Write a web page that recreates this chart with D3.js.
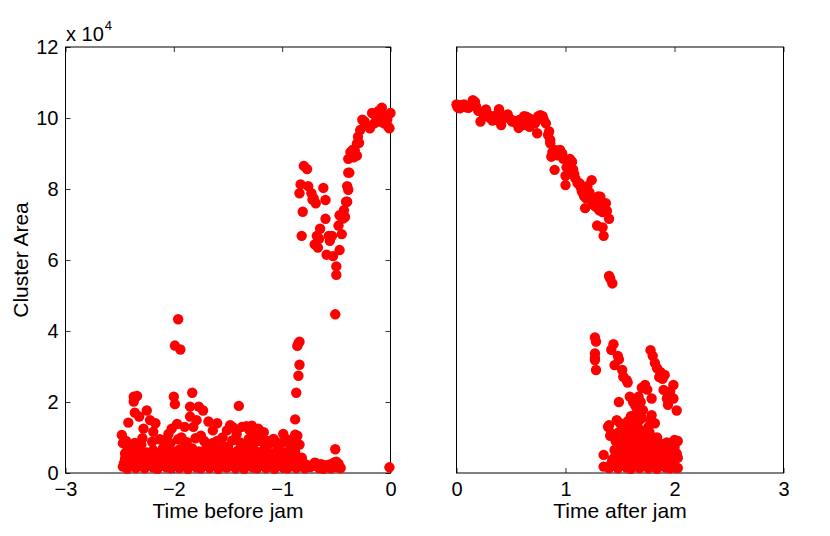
<!DOCTYPE html>
<html><head><meta charset="utf-8">
<script src="https://cdn.jsdelivr.net/npm/d3@7"></script>
<style>
body{margin:0;background:#fff}
text{font-family:"Liberation Sans",Arial,Helvetica,sans-serif;fill:#000}
</style>
</head><body><svg id="c" width="830" height="536"></svg>
<script>
// ---- data (time, cluster area in units of 10^4) ----
const yTicks = [0, 2, 4, 6, 8, 10, 12];
const xTicksBefore = [-3, -2, -1, 0];
const xTicksAfter = [0, 1, 2, 3];
const yMultiplier = "4";

const beforeHigh = [
[-0.01,0.16],[-0.08,10.29],[-0.17,10.14],[0.0,10.14],[-0.01,9.71],[-0.26,9.95],[-0.22,9.8],[-0.13,10.0],[-0.03,9.95],
[-0.19,9.71],[-0.1,9.9],[-0.05,10.05],[-0.15,9.85],[-0.28,9.66],[-0.3,9.47],[-0.31,9.28],[-0.33,9.09],[-0.37,9.04],
[-0.34,8.89],[-0.39,8.85],[-0.31,8.94],[-0.36,8.95],[-0.39,8.46],[-0.4,8.08],[-0.39,7.98],[-0.4,7.64],[-0.43,7.4],
[-0.42,7.21],[-0.47,7.26],[-0.48,6.97],[-0.45,6.73],[-0.47,6.28],[-0.53,6.11],[-0.5,5.82],[-0.5,5.58],[-0.51,4.47],
[-0.8,8.65],[-0.77,8.56],[-0.83,8.13],[-0.84,7.88],[-0.76,8.08],[-0.73,7.88],[-0.71,7.74],[-0.69,7.6],[-0.62,8.03],
[-0.6,7.69],[-0.81,7.36],[-0.82,6.68],[-0.65,6.88],[-0.68,6.68],[-0.7,6.44],[-0.67,6.35],[-0.6,7.16],[-0.57,6.68],
[-0.54,6.68],[-0.56,6.54],[-0.59,6.15],[-0.66,6.6],[-0.72,7.7],[-0.44,7.17],[-0.41,7.64],[-0.38,8.46],[-0.35,9.1],
[-0.29,9.3],[-0.24,9.9],[-0.11,10.2],[-0.06,9.85],[-0.02,9.75]
];
const beforeMid = [
[-0.85,3.65],[-0.86,3.58],[-0.84,3.7],[-0.84,3.05],[-0.85,2.74],[-0.87,2.26],[-0.88,1.51],
[-1.96,4.33],[-1.99,3.59],[-1.94,3.48],[-1.83,2.26],[-1.4,1.89],[-0.51,0.67],
[-2.37,2.15],[-2.34,2.17],[-2.37,2.01],[-2.0,2.15],[-1.99,1.94],[-2.36,1.7],[-2.25,1.76],[-2.32,1.59],[-2.22,1.49],
[-2.42,1.42],[-2.48,1.07],[-2.47,0.84],[-1.85,1.87],[-1.77,1.87],[-1.73,1.76],[-1.85,1.59],[-1.79,1.49],[-1.68,1.45],
[-1.97,1.38],[-2.05,1.1],[-2.19,1.16],[-2.28,1.25],[-2.13,0.95],[-2.02,1.25],[-1.93,1.0],[-1.82,1.3],[-1.75,1.05],
[-1.64,1.2],[-1.6,0.9],[-1.55,1.0],[-1.51,1.2],[-1.48,1.35],[-1.45,1.28],[-1.42,1.1],[-1.37,1.3],[-1.33,1.32],
[-1.3,1.2],[-1.28,1.33],[-1.25,1.1],[-1.22,1.25],[-1.19,1.0],[-1.17,1.15],[-1.13,0.9],[-1.08,0.96],[-1.04,0.8],
[-0.99,1.1],[-0.96,0.95],[-0.92,0.75],[-0.88,1.08],[-0.86,1.05],[-0.84,0.8],[-0.82,0.43],[-2.45,0.55],[-2.4,0.7],
[-2.3,0.8],[-2.1,0.7],[-1.9,0.75],[-1.7,0.7],[-1.5,0.75],[-1.35,0.8],[-1.6,1.4],[-2.17,1.4],[-1.9,1.3],[-1.55,0.6]
];
const beforeLow = [
[-2.47,0.18],[-2.43,0.12],[-2.39,0.22],[-2.35,0.14],[-2.31,0.2],[-2.27,0.13],[-2.23,0.24],[-2.19,0.15],[-2.15,0.12],
[-2.11,0.21],[-2.07,0.16],[-2.03,0.13],[-1.99,0.22],[-1.95,0.14],[-1.91,0.19],[-1.87,0.12],[-1.83,0.23],[-1.79,0.15],
[-1.75,0.13],[-1.71,0.2],[-1.67,0.14],[-1.63,0.24],[-1.59,0.12],[-1.55,0.18],[-1.51,0.15],[-1.47,0.22],[-1.43,0.13],
[-1.39,0.19],[-1.35,0.12],[-1.31,0.21],[-1.27,0.15],[-1.23,0.13],[-1.19,0.23],[-1.15,0.14],[-1.11,0.18],[-1.07,0.12],
[-1.03,0.2],[-0.99,0.15],[-0.95,0.13],[-0.91,0.22],[-0.87,0.14],[-0.83,0.19],[-0.79,0.13],[-0.74,0.17],[-0.69,0.28],
[-0.66,0.14],[-0.62,0.12],[-0.58,0.18],[-0.55,0.13],[-0.52,0.3],[-0.49,0.16],[-0.46,0.14],
[-2.45,0.4],[-2.4,0.33],[-2.35,0.45],[-2.3,0.36],[-2.25,0.42],[-2.2,0.34],[-2.15,0.44],[-2.1,0.37],[-2.05,0.41],
[-2.0,0.33],[-1.95,0.46],[-1.9,0.36],[-1.85,0.4],[-1.8,0.34],[-1.75,0.44],[-1.7,0.38],[-1.65,0.42],[-1.6,0.35],
[-1.55,0.45],[-1.5,0.37],[-1.45,0.41],[-1.4,0.34],[-1.35,0.43],[-1.3,0.36],[-1.25,0.4],[-1.2,0.35],[-1.15,0.44],
[-1.1,0.37],[-1.05,0.42],[-1.0,0.34],[-0.95,0.4],[-0.9,0.36],[-0.86,0.43],
[-2.43,0.62],[-2.37,0.55],[-2.31,0.68],[-2.25,0.58],[-2.19,0.64],[-2.13,0.56],[-2.07,0.7],[-2.01,0.6],[-1.95,0.66],
[-1.89,0.57],[-1.83,0.69],[-1.77,0.61],[-1.71,0.55],[-1.65,0.66],[-1.59,0.6],[-1.53,0.68],[-1.47,0.57],[-1.41,0.63],
[-1.35,0.58],[-1.29,0.7],[-1.23,0.59],[-1.17,0.65],[-1.11,0.56],[-1.05,0.62],[-0.99,0.58],[-0.93,0.66],[-0.88,0.6],
[-2.44,0.9],[-2.36,0.85],[-2.29,0.98],[-2.2,0.88],[-2.1,0.92],[-2.03,0.84],[-1.96,0.95],[-1.88,0.87],[-1.8,0.98],
[-1.72,0.9],[-1.64,0.85],[-1.57,0.8],[-1.46,0.92],[-1.39,0.86],[-1.31,0.95],[-1.26,0.83],[-1.2,0.9],[-1.12,0.82],
[-1.06,0.88],[-1.0,0.85],[-0.93,0.92],[-0.87,0.8],[-0.7,0.29],[-0.5,0.32],[-0.47,0.17],[-0.82,0.41],
[-2.46,0.28],[-2.41,0.5],[-2.37,0.3],[-2.33,0.52],[-2.29,0.27],[-2.24,0.49],[-2.21,0.29],[-2.17,0.53],[-2.13,0.26],
[-2.09,0.5],[-2.05,0.29],[-2.02,0.48],[-1.97,0.27],[-1.93,0.52],[-1.89,0.3],[-1.86,0.49],[-1.81,0.26],[-1.78,0.51],
[-1.73,0.29],[-1.69,0.5],[-1.66,0.27],[-1.62,0.53],[-1.57,0.3],[-1.53,0.49],[-1.49,0.26],[-1.45,0.52],[-1.41,0.28],
[-1.37,0.5],[-1.33,0.27],[-1.29,0.53],[-1.25,0.29],[-1.21,0.49],[-1.17,0.27],[-1.13,0.51],[-1.09,0.28],[-1.05,0.5],
[-1.01,0.26],[-0.97,0.52],[-0.93,0.29],[-0.89,0.49],[-0.85,0.27],[-0.78,0.24],[-0.72,0.2],[-0.64,0.25],[-0.6,0.22],
[-0.56,0.24],[-0.48,0.26]
];

const afterHigh = [
[0,10.38],[0.01,10.3],[0.03,10.27],[0.04,10.36],[0.07,10.38],[0.09,10.3],[0.11,10.29],[0.13,10.35],[0.15,10.5],
[0.17,10.45],[0.18,10.32],[0.2,10.2],[0.22,9.9],[0.24,10.14],[0.26,10.05],[0.27,10.24],[0.29,10.1],[0.31,10.0],
[0.33,9.93],[0.35,10.06],[0.37,9.95],[0.39,10.25],[0.4,10.12],[0.41,9.8],[0.43,10.0],[0.45,10.05],[0.47,10.1],
[0.49,9.98],[0.51,9.9],[0.53,9.92],[0.55,9.85],[0.57,9.72],[0.58,9.95],[0.6,9.9],[0.62,10.05],[0.63,9.8],[0.64,10.04],
[0.66,10.0],[0.67,9.75],[0.68,9.88],[0.7,9.95],[0.72,9.85],[0.74,9.57],[0.75,10.05],[0.77,10.08],[0.79,10.05],
[0.8,9.95],[0.82,9.85],[0.84,9.52],[0.85,9.62],[0.86,9.29],[0.86,9.38],[0.87,8.91],[0.88,9.04],[0.9,8.54],
[0.91,9.09],[0.93,8.95],[0.95,9.1],[0.97,9.0],[0.98,8.85],[1.0,8.11],[1.0,8.37],[1.01,8.61],[1.03,8.8],[1.04,8.85],
[1.06,8.77],[1.07,8.55],[1.08,8.42],[1.09,8.3],[1.11,8.17],[1.13,8.16],[1.14,8.05],[1.15,7.93],[1.17,7.8],[1.18,7.46],
[1.19,7.74],[1.2,8.08],[1.22,7.9],[1.23,7.72],[1.24,8.25],[1.25,7.6],[1.26,7.55],[1.28,7.5],[1.3,7.79],[1.31,7.4],
[1.32,7.78],[1.33,7.64],[1.34,7.35],[1.35,7.41],[1.37,7.6],[1.38,7.38],[1.4,7.16],[1.29,6.97],[1.34,6.92],[1.35,6.68],
[1.4,5.55],[1.41,5.48],[1.43,5.34]
];
const afterMid = [
[1.27,3.82],[1.28,3.7],[1.27,3.37],[1.27,3.25],[1.27,3.18],[1.28,2.9],
[1.44,3.63],[1.42,3.47],[1.48,3.3],[1.49,3.2],[1.45,3.04],[1.52,2.9],[1.53,2.71],[1.56,2.62],[1.57,2.55],
[1.78,3.46],[1.8,3.3],[1.82,3.1],[1.84,2.95],[1.87,2.85],[1.91,2.76],[1.89,2.65],[1.86,2.7],
[1.99,2.48],[1.96,2.3],[1.9,2.34],[1.93,2.1],[1.99,2.1],[1.94,1.92],[2.02,1.76],
[1.73,2.48],[1.7,2.4],[1.75,2.35],[1.79,2.1],[1.59,2.15],[1.62,2.0],[1.67,2.15],[1.49,2.0],[1.79,1.63],[1.82,1.4],
[1.47,1.49],[1.39,1.3],[1.42,1.12],[1.35,0.51],[1.35,0.18],[2.0,0.93],[2.0,0.55],
[1.65,1.68],[1.68,1.5],[1.62,1.3],[1.74,1.2],[1.71,1.77],[1.64,1.9],[1.69,2.0]
];
const afterLow = [
[1.4,0.14],[1.44,0.2],[1.48,0.13],[1.52,0.22],[1.56,0.15],[1.6,0.12],[1.64,0.19],[1.68,0.14],[1.72,0.21],[1.76,0.13],
[1.8,0.18],[1.84,0.12],[1.88,0.2],[1.92,0.15],[1.96,0.13],[2.0,0.19],[2.03,0.14],
[1.43,0.38],[1.47,0.44],[1.51,0.36],[1.55,0.42],[1.59,0.35],[1.63,0.46],[1.67,0.38],[1.71,0.41],[1.75,0.34],
[1.79,0.44],[1.83,0.37],[1.87,0.42],[1.91,0.35],[1.95,0.4],[1.99,0.36],[2.03,0.43],
[1.45,0.65],[1.5,0.6],[1.55,0.7],[1.6,0.62],[1.64,0.68],[1.68,0.58],[1.72,0.66],[1.76,0.6],[1.8,0.7],[1.85,0.62],
[1.9,0.67],[1.95,0.6],[2.0,0.72],
[1.46,0.9],[1.53,0.95],[1.58,0.88],[1.63,0.98],[1.68,0.9],[1.73,0.86],[1.78,0.95],[1.83,0.88],[1.88,0.82],[1.93,0.86],
[1.98,0.8],[2.03,0.9],
[1.41,1.05],[1.49,1.15],[1.56,1.2],[1.61,1.1],[1.67,1.25],[1.72,1.05],[1.77,1.15],[1.84,1.0],
[1.4,1.35],[1.5,1.4],[1.57,1.45],[1.66,1.4],[1.76,1.3],[1.6,1.6],[1.7,1.55],[1.78,1.45],
[1.42,0.27],[1.46,0.52],[1.5,0.28],[1.54,0.55],[1.58,0.26],[1.62,0.5],[1.66,0.29],[1.7,0.53],[1.74,0.27],[1.78,0.5],
[1.82,0.28],[1.86,0.54],[1.9,0.26],[1.94,0.5],[1.98,0.28],[2.02,0.55],[1.52,0.78],[1.62,0.8],[1.7,0.77],[1.8,0.82],
[1.9,0.78],[1.58,1.0],[1.66,1.05],[1.75,1.0]
];

// ---- drawing ----
const svg = d3.select("#c");
svg.append("rect").attr("width",830).attr("height",536).attr("fill","#fff");
const y = d3.scaleLinear().domain([0,12]).range([473,47]);
const xL = d3.scaleLinear().domain([-3,0]).range([65.5,390.5]);
const xR = d3.scaleLinear().domain([0,3]).range([456.5,783.5]);
const FONT = 20, TICK = 5;

function panel(x, xTicks, showY, xlabel, series){
  const [x0,x1] = x.range(), [yb,yt] = y.range();
  const g = svg.append("g");
  g.append("g").attr("transform",`translate(0,${yb})`)
    .call(d3.axisBottom(x).tickValues(xTicks).tickSize(-TICK).tickPadding(9).tickFormat(d3.format("")));
  g.append("g").attr("transform",`translate(0,${yt})`)
    .call(d3.axisTop(x).tickValues(xTicks).tickSize(-TICK).tickFormat(""));
  if(showY){
    g.append("g").attr("transform",`translate(${x0},0)`)
      .call(d3.axisLeft(y).tickValues(yTicks).tickSize(-TICK).tickPadding(7).tickFormat(d3.format("")));
    g.append("g").attr("transform",`translate(${x1},0)`)
      .call(d3.axisRight(y).tickValues(yTicks).tickSize(-TICK).tickFormat(""));
  }
  g.selectAll(".domain").remove();
  g.selectAll(".tick line").attr("stroke","#333").attr("stroke-width",1);
  g.selectAll(".tick text").attr("font-size",FONT).attr("font-family","Liberation Sans, Arial, sans-serif").attr("fill","#000");
  g.append("rect").attr("x",x0).attr("y",yt).attr("width",x1-x0).attr("height",yb-yt)
    .attr("fill","none").attr("stroke","#000").attr("stroke-width",1);
  g.append("text").attr("x",(x0+x1)/2).attr("y",518).attr("text-anchor","middle")
    .attr("font-size",21).text(xlabel);
  series.forEach(s=>{
    g.append("g").selectAll("circle").data(s).join("circle")
      .attr("cx",d=>x(d[0])).attr("cy",d=>y(d[1])).attr("r",5.2).attr("fill","#ff0000");
  });
}
panel(xL, xTicksBefore, true, "Time before jam", [beforeLow, beforeMid, beforeHigh]);
panel(xR, xTicksAfter, false, "Time after jam", [afterLow, afterMid, afterHigh]);

svg.append("text").attr("transform","translate(28,260) rotate(-90)").attr("text-anchor","middle")
  .attr("font-size",21).text("Cluster Area");
const m = svg.append("text").attr("x",66).attr("y",41).attr("font-size",20);
m.append("tspan").text("x 10");
m.append("tspan").attr("font-size",13).attr("dy",-11).attr("dx",1).text(yMultiplier);
</script>
</body></html>
